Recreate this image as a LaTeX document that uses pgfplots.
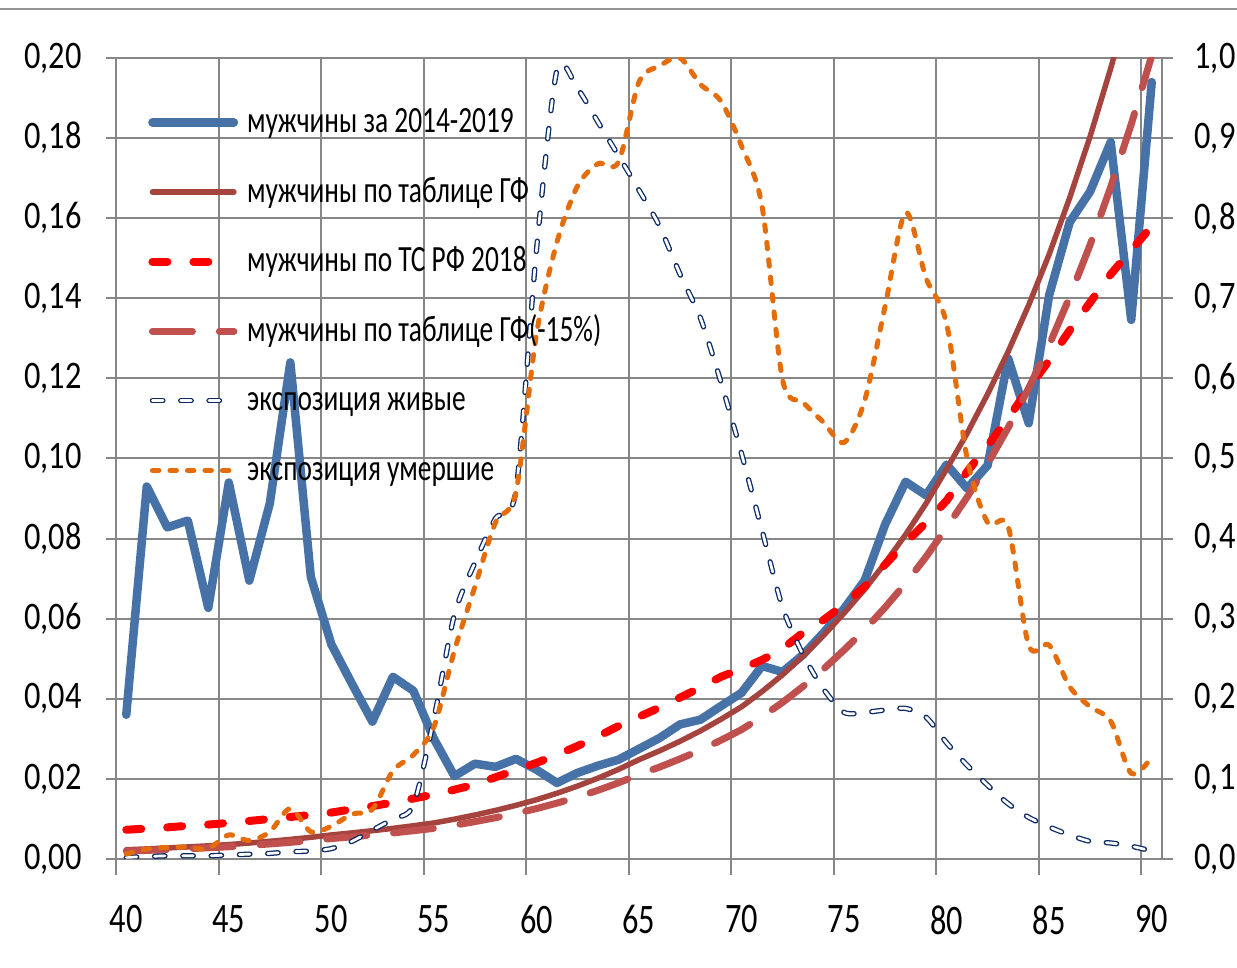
\documentclass[border=0pt]{standalone}
\usepackage{pgfplots}
\pgfplotsset{compat=1.18}
\usepackage{pgfplotstable}
\usepackage{fontspec}
\setmainfont{Carlito}[FakeStretch=0.83]
\newfontfamily\xtfont{Carlito}[FakeStretch=0.77]
\newfontfamily\legfont{Carlito}[FakeStretch=0.74]

\definecolor{cBlue}{HTML}{4672A8}
\definecolor{cBrown}{HTML}{A5443F}
\definecolor{cPink}{HTML}{C0504D}
\definecolor{cNavy}{HTML}{0B2A66}
\definecolor{cOrange}{HTML}{E46C0A}
\definecolor{cGrid}{HTML}{878787}

% age, rate 2014-2019, GF table, TS RF 2018, GF table -15%
\pgfplotstableread{
age blue brown red pink
40 0.0360 0.00230 0.0073 0.00196
41 0.0930 0.00252 0.0076 0.00214
42 0.0828 0.00275 0.0079 0.00234
43 0.0845 0.00301 0.0083 0.00256
44 0.0627 0.00329 0.0086 0.00280
45 0.0940 0.00360 0.0090 0.00306
46 0.0695 0.00399 0.0095 0.00339
47 0.0888 0.00442 0.0100 0.00376
48 0.1240 0.00489 0.0105 0.00416
49 0.0704 0.00542 0.0110 0.00461
50 0.0536 0.00600 0.0116 0.00510
51 0.0438 0.00651 0.0124 0.00553
52 0.0343 0.00706 0.0132 0.00600
53 0.0455 0.00765 0.0141 0.00650
54 0.0420 0.00830 0.0151 0.00706
55 0.0300 0.00900 0.0161 0.00765
56 0.0207 0.00994 0.0173 0.00845
57 0.0238 0.01098 0.0186 0.00933
58 0.0230 0.01213 0.0204 0.01031
59 0.0250 0.01340 0.0222 0.01139
60 0.0223 0.01480 0.0240 0.01258
61 0.0190 0.01641 0.0260 0.01395
62 0.0215 0.01820 0.0282 0.01547
63 0.0233 0.02018 0.0306 0.01715
64 0.0248 0.02238 0.0332 0.01902
65 0.0275 0.02480 0.0355 0.02108
66 0.0302 0.02700 0.0378 0.02295
67 0.0336 0.02940 0.0403 0.02499
68 0.0348 0.03200 0.0428 0.02720
69 0.0382 0.03490 0.0455 0.02967
70 0.0415 0.03800 0.0475 0.03230
71 0.0482 0.04180 0.0497 0.03553
72 0.0467 0.04600 0.0525 0.03910
73 0.0510 0.05070 0.0565 0.04310
74 0.0565 0.05580 0.0597 0.04743
75 0.0625 0.06140 0.0635 0.05219
76 0.0695 0.06730 0.0680 0.05720
77 0.0835 0.07390 0.0735 0.06282
78 0.0942 0.08100 0.0790 0.06885
79 0.0908 0.08880 0.0840 0.07548
80 0.0985 0.09740 0.0895 0.08279
81 0.0925 0.10630 0.0967 0.09036
82 0.0983 0.11610 0.1032 0.09869
83 0.1250 0.12670 0.1100 0.10770
84 0.1088 0.13830 0.1176 0.11756
85 0.1408 0.15100 0.1245 0.12835
86 0.1590 0.16510 0.1320 0.14034
87 0.1667 0.18050 0.1390 0.15343
88 0.1790 0.19740 0.1460 0.16779
89 0.1346 0.21580 0.1520 0.18343
90 0.1940 0.23600 0.1580 0.20060
}\rates

% age, exposure alive, exposure dead (right axis)
\pgfplotstableread{
age alive dead
40 0.002 0.0060
41 0.003 0.0125
42 0.004 0.0146
43 0.004 0.0146
44 0.004 0.0130
45 0.005 0.0300
46 0.006 0.0230
47 0.007 0.0340
48 0.009 0.0630
49 0.010 0.0340
50 0.013 0.0410
51 0.022 0.0560
52 0.036 0.0620
53 0.050 0.1100
54 0.067 0.1300
55 0.175 0.1650
56 0.305 0.2600
57 0.370 0.3400
58 0.425 0.4200
59 0.460 0.4580
60 0.760 0.6550
61 0.985 0.7700
62 0.962 0.8400
63 0.920 0.8680
64 0.878 0.8700
65 0.835 0.9700
66 0.790 0.9900
67 0.730 1.0000
68 0.675 0.9670
69 0.595 0.9460
70 0.506 0.8900
71 0.410 0.8150
72 0.314 0.5980
73 0.255 0.5700
74 0.212 0.5450
75 0.183 0.5200
76 0.183 0.5720
77 0.186 0.6900
78 0.188 0.8070
79 0.177 0.7250
80 0.145 0.6680
81 0.117 0.5000
82 0.092 0.4200
83 0.069 0.4150
84 0.052 0.2670
85 0.040 0.2670
86 0.030 0.2150
87 0.022 0.1900
88 0.020 0.1720
89 0.016 0.1070
90 0.010 0.1270
}\expo

\pgfplotsset{
  sBlue/.style={cBlue, line width=8.5pt, line cap=round, line join=round},
  sBrown/.style={cBrown, line width=5.5pt, line cap=round, line join=round},
  sRed/.style={red, line width=8pt, line cap=round, dash pattern=on 15pt off 26pt},
  sPink/.style={cPink, line width=7pt, line cap=round, dash pattern=on 40pt off 27pt},
  sNavy/.style={cNavy, line width=1.3pt, double=white, double distance=2.7pt,
    line cap=round, line join=round, dash pattern=on 10.5pt off 17.8pt},
  sOrange/.style={cOrange, line width=5pt, line cap=round, line join=round,
    dash pattern=on 6.5pt off 11pt},
  base/.style={at={(0pt,0pt)}, anchor=south west, scale only axis,
    width=1046pt, height=801pt, xmin=39.5, xmax=90.5,
    tick align=outside,
    every tick/.style={cGrid, line width=2pt},
    axis line style={cGrid, line width=2pt},
    tick label style={font=\fontsize{39}{47}\selectfont,
      /pgf/number format/assume math mode=true},
    scaled y ticks=false,
    yticklabel style={/pgf/number format/fixed,
      /pgf/number format/fixed zerofill,
      /pgf/number format/precision=2,
      /pgf/number format/use comma},
  },
}

\begin{document}
\begin{tikzpicture}
\path[use as bounding box] (-116pt,-109pt) rectangle (1121pt,859pt);
\begin{axis}[base,
  ymin=0, ymax=0.2,
  ytick={0,0.02,0.04,0.06,0.08,0.1,0.12,0.14,0.16,0.18,0.2},
  ytick pos=left, major tick length=10pt,
  yticklabel style={xshift=-21pt},
  xtick={40,45,...,90}, xtick pos=bottom,
  xticklabel style={yshift=-33pt, font=\xtfont\fontsize{42}{50}\selectfont},
  minor xtick={39.5,44.5,...,89.5}, minor tick length=16pt,
  major x tick style={draw=none},
  xminorgrids, ymajorgrids,
  grid style={cGrid, line width=2pt},
  minor grid style={cGrid, line width=2pt},
]
\addplot[sBlue] table[x=age, y=blue] {\rates};
\addplot[sBrown] table[x=age, y=brown] {\rates};
\addplot[sRed] table[x=age, y=red] {\rates};
\addplot[sPink] table[x=age, y=pink] {\rates};
\end{axis}
\begin{axis}[base,
  ymin=0, ymax=1,
  axis x line=none, axis y line*=right,
  ytick={0,0.1,0.2,0.3,0.4,0.5,0.6,0.7,0.8,0.9,1},
  major tick length=11pt,
  yticklabel style={xshift=18pt, /pgf/number format/precision=1},
  legend cell align=left,
  legend style={draw=none, fill=none, at={(0.0277,0.946)}, anchor=north west,
    font=\legfont\fontsize{37}{45}\selectfont, row sep=31.6pt, column sep=9pt,
    nodes={inner sep=0pt, text height=29pt, text depth=9pt}},
  legend image code/.code={\draw[#1] (4pt,0pt) -- (85.5pt,0pt);},
]
\addlegendimage{sBlue}
\addlegendimage{sBrown}
\addlegendimage{sRed}
\addlegendimage{sPink}
\addplot[sNavy, smooth, tension=0.45] table[x=age, y=alive] {\expo};
\addplot[sOrange, smooth] table[x=age, y=dead] {\expo};
\legend{мужчины за 2014-2019, мужчины по таблице ГФ, мужчины по ТС РФ 2018,
  мужчины по таблице ГФ(-15\%), экспозиция живые, экспозиция умершие}
\end{axis}
\draw[cGrid!90, line width=2.5pt] (-116pt,850pt) -- (1121pt,850pt);
\end{tikzpicture}
\end{document}
